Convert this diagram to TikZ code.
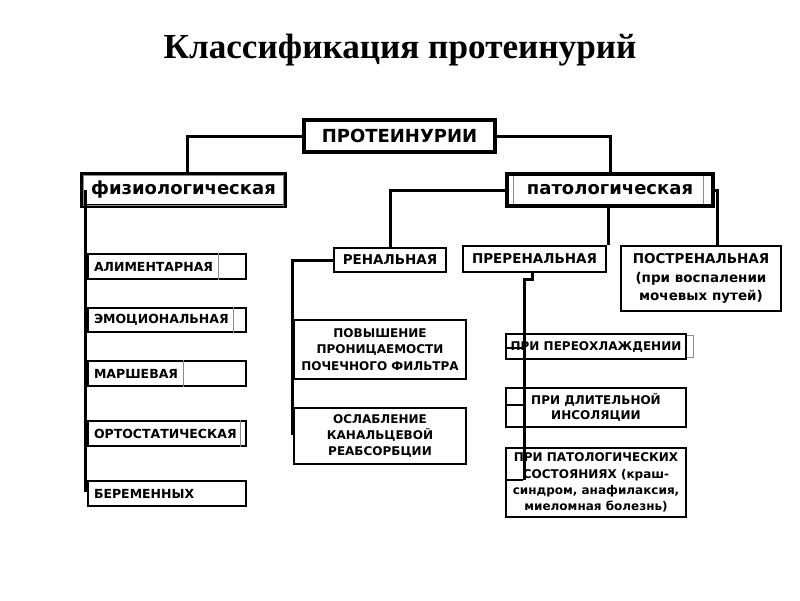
\documentclass[tikz,border=0pt]{standalone}
\usepackage{fontspec}
\setmainfont{Liberation Serif}
\newfontfamily\dvs{DejaVu Sans}
\begin{document}
\begin{tikzpicture}[x=1pt,y=-1pt,
 big/.style={draw,line width=4pt,inner sep=0pt,font=\dvs\bfseries\fontsize{18}{20}\selectfont},
 box/.style={draw,line width=2.2pt,inner sep=0pt,align=center},
 lbox/.style={draw,line width=2pt,inner ysep=0pt,inner xsep=6pt,align=left,text width=146pt,minimum height=25pt,font=\dvs\bfseries\fontsize{12.5}{14}\selectfont},
 conn/.style={line width=3pt},
 art/.style={black!45,line width=0.8pt},
 artb/.style={black,line width=1.2pt}]
\useasboundingbox[fill=white] (0,0) rectangle (800,600);

\node[anchor=base] (title) at (400,58.5) {\fontsize{35.2}{38}\selectfont\bfseries Классификация протеинурий};

\node[big,minimum width=191pt,minimum height=32pt] (prot) at (399.5,136) {ПРОТЕИНУРИИ};
\node[big,minimum width=203pt,minimum height=32pt] (fiz) at (183.5,190) {физиологическая};
\node[big,minimum width=206pt,minimum height=32pt] (pat) at (610,190) {патологическая};

\begin{scope}[font=\dvs\bfseries\fontsize{13.5}{18.5}\selectfont]
\node[box,minimum width=112pt,minimum height=24pt] (ren) at (390,260) {РЕНАЛЬНАЯ};
\node[box,minimum width=143pt,minimum height=26pt] (pre) at (534.5,259) {ПРЕРЕНАЛЬНАЯ};
\node[box,minimum width=160pt,minimum height=65pt] (post) at (701,278.5) {ПОСТРЕНАЛЬНАЯ\\(при воспалении\\мочевых путей)};
\end{scope}

\node[lbox] (ali) at (167,266.5) {АЛИМЕНТАРНАЯ};
\node[lbox,minimum height=24pt] (emo) at (167,320) {ЭМОЦИОНАЛЬНАЯ};
\node[lbox] (mar) at (167,373.5) {МАРШЕВАЯ};
\node[lbox] (ort) at (167,433.5) {ОРТОСТАТИЧЕСКАЯ};
\node[lbox] (ber) at (167,493.5) {БЕРЕМЕННЫХ};

\begin{scope}[font=\dvs\bfseries\fontsize{12}{16.3}\selectfont]
\node[box,minimum width=172pt,minimum height=59pt] (pov) at (380,349.5) {ПОВЫШЕНИЕ\\ПРОНИЦАЕМОСТИ\\ПОЧЕЧНОГО ФИЛЬТРА};
\node[box,minimum width=172pt,minimum height=56pt] (osl) at (380,436) {ОСЛАБЛЕНИЕ\\КАНАЛЬЦЕВОЙ\\РЕАБСОРБЦИИ};
\node[box,minimum width=180pt,minimum height=25pt] (pox) at (596,346.5) {ПРИ ПЕРЕОХЛАЖДЕНИИ};
\node[box,minimum width=180pt,minimum height=39pt,font=\dvs\bfseries\fontsize{12}{15}\selectfont] (dlit) at (596,407.5) {ПРИ ДЛИТЕЛЬНОЙ\\ИНСОЛЯЦИИ};
\node[box,minimum width=180pt,minimum height=69pt] (sost) at (596,482.5) {ПРИ ПАТОЛОГИЧЕСКИХ\\СОСТОЯНИЯХ (краш-\\синдром, анафилаксия,\\миеломная болезнь)};
\end{scope}

% artifacts of the original text frames
\draw[art] (83,175) rectangle (283,205);
\draw[art] (513,176) -- (513,204) (703,176) -- (703,204);
\draw[art] (ali.north west -| 218,0) -- (ali.south west -| 218,0);
\draw[art] (emo.north west -| 233,0) -- (emo.south west -| 233,0);
\draw[art] (mar.north west -| 183,0) -- (mar.south west -| 183,0);
\draw[art] (ort.north west -| 240,0) -- (ort.south west -| 240,0);
\draw[art] (687,335) -- (693,335) -- (693,357) -- (687,357);
\draw[artb] (pox.west |- 0,348) -- (523,348);
\draw[artb] (dlit.west |- 0,405) -- (523,405);
\draw[artb] (sost.west |- 0,480) -- (523,480);

% connectors
\coordinate (ft) at (85,492);
\coordinate (rt) at (292,435);
\coordinate (pt) at (524,480);
\draw[conn] (prot.west) -| ([xshift=3.5pt]fiz.north);
\draw[conn] (prot.east) -| (pat.north);
\draw[conn] (pat.west) -| (ren.north);
\draw[conn] ([xshift=-2pt]pat.south) -- ([xshift=-2pt]pat.south |- pre.north);
\draw[conn] (pat.east) -| ([xshift=16pt]post.north);
\draw[conn] ([xshift=5pt]fiz.west) -- (ft);
\draw[conn] (ren.west) -| (rt);
\draw[conn] ([xshift=-2pt]pre.south) -- ++(0,6) -| (pt);
\end{tikzpicture}
\end{document}
